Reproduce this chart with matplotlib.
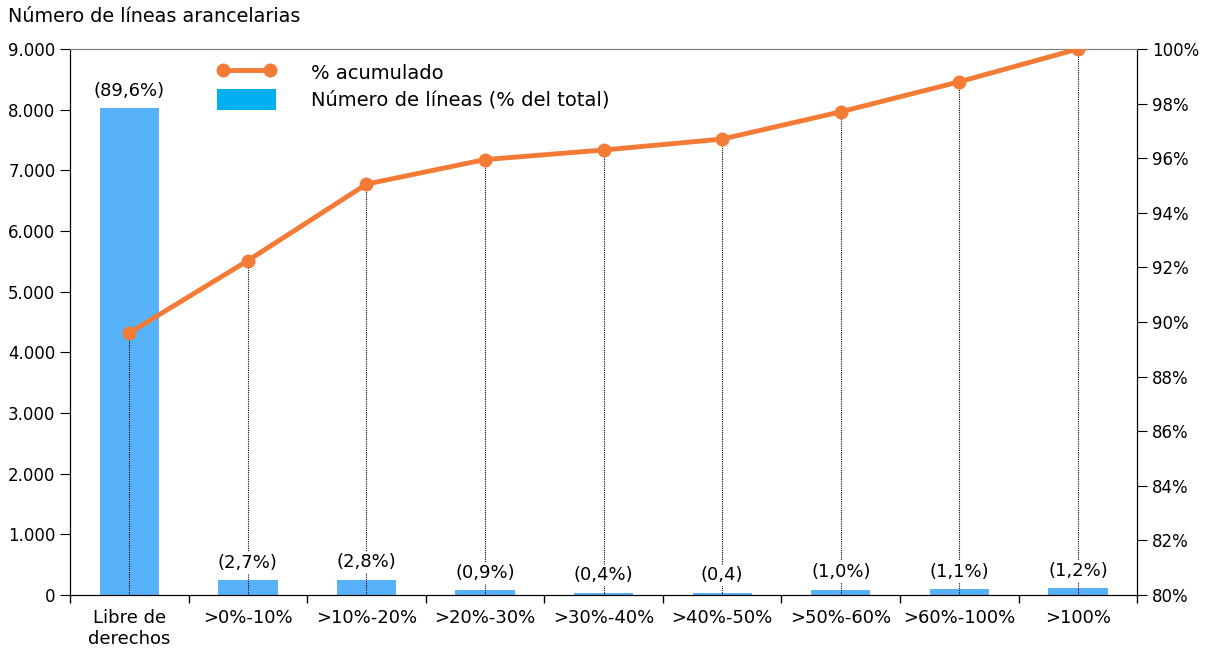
import matplotlib.pyplot as plt
from matplotlib.lines import Line2D
from matplotlib.patches import Patch
from matplotlib.ticker import FuncFormatter, MultipleLocator, FixedLocator

# datos
categorias = ['Libre de\nderechos', '>0%-10%', '>10%-20%', '>20%-30%', '>30%-40%',
              '>40%-50%', '>50%-60%', '>60%-100%', '>100%']
num_lineas = [8030, 245, 252, 81, 36, 36, 90, 100, 108]
etiquetas = ['(89,6%)', '(2,7%)', '(2,8%)', '(0,9%)', '(0,4%)', '(0,4)', '(1,0%)', '(1,1%)', '(1,2%)']
acumulado = [89.6, 92.25, 95.05, 95.95, 96.3, 96.7, 97.7, 98.8, 100.0]

plt.rcParams['font.family'] = ['DejaVu Sans']
bar_color = '#58B2FA'
line_color = '#F47B35'

fig = plt.figure(figsize=(12.12, 6.48), dpi=100)
ax = fig.add_axes([0.0578, 0.0818, 0.8805, 0.8426])
ax2 = ax.twinx()

x = list(range(len(categorias)))
ax.bar(x, num_lineas, width=0.5, color=bar_color, zorder=2)
ax.set_xlim(-0.5, len(categorias) - 0.5)
ax.set_ylim(0, 9000)
ax.yaxis.set_major_locator(MultipleLocator(1000))
ax.yaxis.set_major_formatter(FuncFormatter(lambda v, p: f'{int(v):,}'.replace(',', '.')))

ax2.set_ylim(80, 100)
ax2.yaxis.set_major_locator(MultipleLocator(2))
ax2.yaxis.set_major_formatter(FuncFormatter(lambda v, p: f'{int(round(v))}%'))

# líneas punteadas verticales
ax2.vlines(x, 80, acumulado, colors='black', linestyles=(0, (1, 1)), linewidth=0.8, zorder=1)
ax2.plot(x, acumulado, color=line_color, linewidth=3.5, marker='o', markersize=9, zorder=3)

# etiquetas sobre las barras
for xi, v, t in zip(x, num_lineas, etiquetas):
    ax2.annotate(t, xy=(xi, v), xycoords=ax.transData, xytext=(0, 6), textcoords='offset points',
                 ha='center', va='bottom', fontsize=13,
                 bbox=dict(boxstyle='square,pad=0.1', facecolor='white', edgecolor='none'), zorder=4)

ax.set_xticks(x)
ax.set_xticklabels(categorias, fontsize=13)
ax.tick_params(axis='x', which='major', length=0, pad=10)
ax.xaxis.set_minor_locator(FixedLocator([i - 0.5 for i in range(len(categorias) + 1)]))
ax.tick_params(axis='x', which='minor', length=6, width=1, direction='out')
ax.tick_params(axis='y', labelsize=12, length=7, direction='out')
ax2.tick_params(axis='y', labelsize=12, length=7, direction='out')

for a in (ax, ax2):
    a.spines['top'].set_color('#808080')
    a.spines['left'].set_color('black')
    a.spines['right'].set_color('black')
    a.spines['bottom'].set_color('black')

fig.text(0.007, 0.975, 'Número de líneas arancelarias', fontsize=13.8, ha='left', va='center')

handles = [Line2D([0], [0], color=line_color, linewidth=3.5, marker='o', markersize=9),
           Patch(facecolor='#00B0F0', edgecolor='none')]
ax2.legend(handles, ['% acumulado', 'Número de líneas (% del total)'], loc='upper left',
           bbox_to_anchor=(0.165, 0.932), bbox_transform=fig.transFigure, frameon=False,
           fontsize=14, numpoints=2, handlelength=3.0, handleheight=1.3,
           handletextpad=1.8, labelspacing=0.3)

fig.savefig('out.png', dpi=100)
